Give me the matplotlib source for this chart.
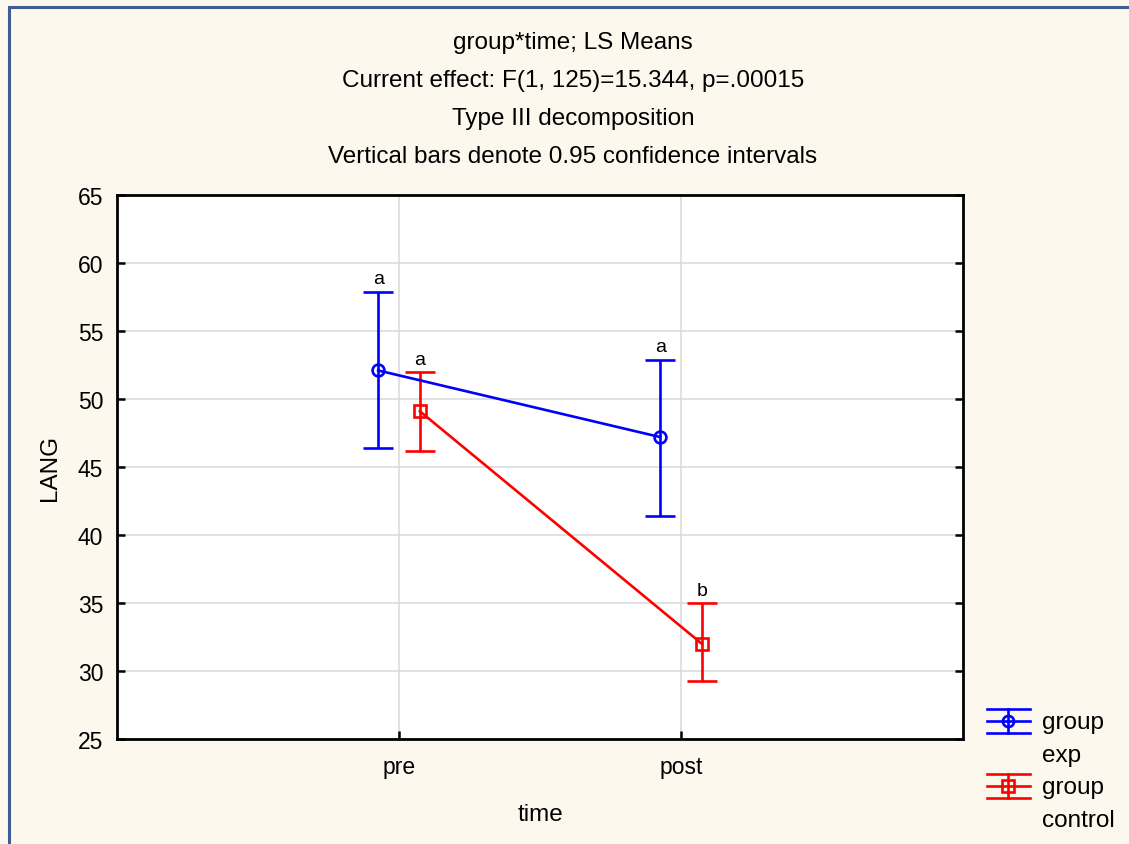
import matplotlib
matplotlib.use("Agg")
import matplotlib.pyplot as plt
from matplotlib.patches import Rectangle

plt.rcParams['font.family'] = ['Liberation Sans', 'DejaVu Sans']

# Data
times = ["pre", "post"]
groups = ["group\nexp", "group\ncontrol"]
exp_mean = [52.1, 47.2]
exp_low = [46.4, 41.4]
exp_high = [57.9, 52.9]
ctrl_mean = [49.1, 32.0]
ctrl_low = [46.2, 29.3]
ctrl_high = [52.0, 35.0]
exp_letters = ["a", "a"]
ctrl_letters = ["a", "b"]

bg = "#FDF8EE"
fig = plt.figure(figsize=(11.29, 8.45), dpi=100, facecolor=bg)

# outer border
fig.patches.append(Rectangle((9/1129, -0.1), 1.2, 1 - 8/845 + 0.1, transform=fig.transFigure,
                             fill=False, edgecolor="#3D5E94", linewidth=2.2, zorder=0))

ax = fig.add_axes([117/1129, 1 - 740/845, (963 - 117)/1129, (740 - 196)/845])
ax.set_facecolor("white")
x = [0, 1]
off = 0.074
LW = 1.9

def draw(means, lows, highs, letters, color, marker, dx, ms):
    xs = [xi + dx for xi in x]
    yerr = [[m - l for m, l in zip(means, lows)], [h - m for m, h in zip(means, highs)]]
    ax.errorbar(xs, means, yerr=yerr, color=color, lw=LW, elinewidth=LW, capsize=11,
                capthick=LW, marker=marker, markersize=ms, markerfacecolor="none",
                markeredgecolor=color, markeredgewidth=LW, zorder=3)
    for xi, h, t in zip(xs, highs, letters):
        ax.annotate(t, (xi, h), xytext=(0, 3), textcoords="offset points",
                    ha="center", va="bottom", fontsize=14)

draw(exp_mean, exp_low, exp_high, exp_letters, "#0000FF", "o", -off, 8.5)
draw(ctrl_mean, ctrl_low, ctrl_high, ctrl_letters, "#FF0000", "s", off, 8)

ax.set_xlim(-1, 2)
ax.set_ylim(25, 65)
ax.set_xticks(x)
ax.set_xticklabels(times)
ax.set_yticks(range(25, 66, 5))
ax.grid(True, color="#DCDCDC", lw=1.2)
ax.set_axisbelow(True)
ax.tick_params(direction="in", length=6, width=1.8, labelsize=16.5, right=True, top=False)
ax.tick_params(axis="y", pad=10)
ax.tick_params(axis="x", pad=11.5)
for s in ax.spines.values():
    s.set_linewidth(2)
ax.set_xlabel("time", fontsize=17.5, labelpad=18)
ax.set_ylabel("LANG", fontsize=17.5, labelpad=12)

titles = ["group*time; LS Means",
          "Current effect: F(1, 125)=15.344, p=.00015",
          "Type III decomposition",
          "Vertical bars denote 0.95 confidence intervals"]
for i, t in enumerate(titles):
    fig.text(573/1129, 1 - (43 + 38*i)/845, t, ha="center", va="center", fontsize=17.5)

# legend
lax = fig.add_axes([0, 0, 1, 1], facecolor="none")
lax.set_xlim(0, 1129)
lax.set_ylim(845, 0)
lax.axis("off")
for (yc, col, mk, lab) in [(722, "#0000FF", "o", groups[0]), (787, "#FF0000", "s", groups[1])]:
    for dy in (-12, 0, 12):
        lax.plot([987, 1030], [yc + dy, yc + dy], color=col, lw=LW)
    lax.plot([1008, 1008], [yc - 12, yc + 12], color=col, lw=LW)
    lax.plot([1008], [yc], marker=mk, color=col, markersize=8, markerfacecolor="none",
             markeredgewidth=LW)
    l1, l2 = lab.split("\n")
    lax.text(1042, yc + 1, l1, va="center", ha="left", fontsize=17.5)
    lax.text(1042, yc + 34, l2, va="center", ha="left", fontsize=17.5)

fig.savefig("out.png", dpi=100, facecolor=bg)
